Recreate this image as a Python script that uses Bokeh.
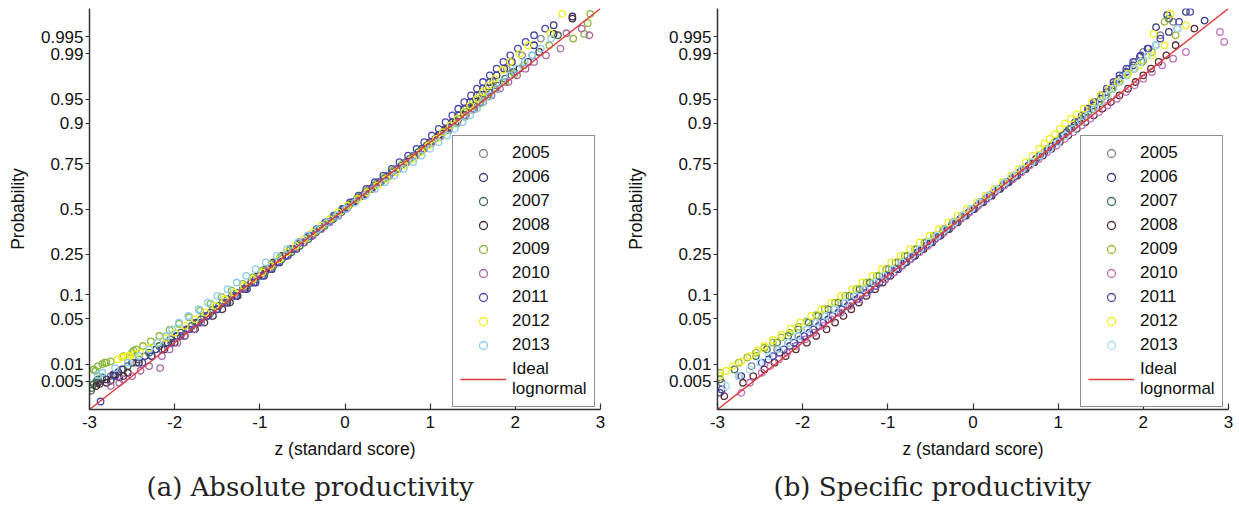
from statistics import NormalDist
from bokeh.plotting import figure
from bokeh.models import Range1d, FixedTicker, Legend, LegendItem, Title
from bokeh.layouts import row
from bokeh.embed import file_html
from bokeh.resources import INLINE

# ---------------- data ----------------
years = ["2005", "2006", "2007", "2008", "2009", "2010", "2011", "2012", "2013"]
colors_a = ["#85858f", "#3a3a78", "#3f6f50", "#4a2c32", "#8ab83c", "#a868a8", "#4848b0", "#eeee22", "#88ccf0"]
colors_b = ["#85858f", "#3a3a80", "#3f6f50", "#5c2a30", "#9ab83c", "#c070b8", "#4848b0", "#eeee22", "#a8dcf5"]
x_ticks = [-3, -2, -1, 0, 1, 2, 3]
x_tick_labels = ["-3", "-2", "-1", "0", "1", "2", "3"]
prob_ticks = [0.005, 0.01, 0.05, 0.1, 0.25, 0.5, 0.75, 0.9, 0.95, 0.99, 0.995]
prob_tick_labels = ["0.005", "0.01", "0.05", "0.1", "0.25", "0.5", "0.75", "0.9", "0.95", "0.99", "0.995"]
ideal_z = [-3, 3]
captions = ["(a) Absolute productivity", "(b) Specific productivity"]

# Panel (a): x = standard score, y = normal quantile of the cumulative probability
a2005_x = [-2.85, -2.45, -2.22, -1.98, -1.76, -1.55, -1.33, -1.1, -0.92, -0.7, -0.49, -0.3, -0.12, 0.08, 0.28, 0.5, 0.72, 0.93, 1.1, 1.27, 1.42, 1.58, 1.74, 1.9, 2.08, 2.3,
           -2.1, -1.87, -1.66, -1.44, -1.2, -1.01, -0.81, -0.6, -0.4, -0.21, -0.02, 0.18, 0.39, 0.61, 0.83, 1.02, 1.19, 1.35, 1.5, 1.66,
           -2.9, -2.75, -2.6]
a2005_y = [-2.55, -2.3, -2.1, -1.9, -1.7, -1.5, -1.3, -1.1, -0.9, -0.7, -0.5, -0.3, -0.1, 0.1, 0.3, 0.5, 0.7, 0.9, 1.1, 1.3, 1.5, 1.7, 1.9, 2.1, 2.3, 2.55,
           -2.0, -1.8, -1.6, -1.4, -1.2, -1.0, -0.8, -0.6, -0.4, -0.2, 0.0, 0.2, 0.4, 0.6, 0.8, 1.0, 1.2, 1.4, 1.6, 1.8,
           -2.6, -2.5, -2.4]
a2006_x = [-2.9, -2.62, -2.35, -2.08, -1.85, -1.62, -1.38, -1.15, -0.95, -0.77, -0.57, -0.38, -0.2, -0.02, 0.2, 0.42, 0.62, 0.82, 1.02, 1.18, 1.33, 1.47, 1.62, 1.78, 1.96, 2.22, 2.45, 2.67,
           -2.5, -2.22, -1.97, -1.74, -1.5, -1.27, -1.05, -0.86, -0.67, -0.48, -0.29, -0.11, 0.09, 0.31, 0.52, 0.72, 0.92, 1.1, 1.26, 1.4, 1.55, 1.7, 1.87,
           -2.8, -2.72, -2.66]
a2006_y = [-2.6, -2.4, -2.2, -2.0, -1.8, -1.6, -1.4, -1.2, -1.0, -0.8, -0.6, -0.4, -0.2, 0.0, 0.2, 0.4, 0.6, 0.8, 1.0, 1.2, 1.4, 1.6, 1.8, 2.0, 2.2, 2.45, 2.75, 2.88,
           -2.3, -2.1, -1.9, -1.7, -1.5, -1.3, -1.1, -0.9, -0.7, -0.5, -0.3, -0.1, 0.1, 0.3, 0.5, 0.7, 0.9, 1.1, 1.3, 1.5, 1.7, 1.9, 2.1,
           -2.55, -2.48, -2.44]
a2007_x = [-2.98, -2.9, -2.55, -2.3, -2.05, -1.8, -1.58, -1.38, -1.15, -0.94, -0.74, -0.53, -0.34, -0.14, 0.04, 0.24, 0.45, 0.66, 0.86, 1.06, 1.24, 1.42, 1.6, 1.78, 1.98, 2.2, 2.5,
           -2.42, -2.18, -1.93, -1.69, -1.48, -1.27, -1.05, -0.84, -0.63, -0.43, -0.24, -0.04, 0.14, 0.34, 0.55, 0.76, 0.96, 1.15, 1.33, 1.51, 1.69, 1.88,
           -2.97, -2.95, -2.92, -2.85]
a2007_y = [-2.72, -2.55, -2.35, -2.15, -1.95, -1.75, -1.55, -1.35, -1.15, -0.95, -0.75, -0.55, -0.35, -0.15, 0.05, 0.25, 0.45, 0.65, 0.85, 1.05, 1.25, 1.45, 1.65, 1.85, 2.05, 2.3, 2.6,
           -2.25, -2.05, -1.85, -1.65, -1.45, -1.25, -1.05, -0.85, -0.65, -0.45, -0.25, -0.05, 0.15, 0.35, 0.55, 0.75, 0.95, 1.15, 1.35, 1.55, 1.75, 1.95,
           -2.68, -2.62, -2.58, -2.52]
a2008_x = [-2.92, -2.7, -2.42, -2.12, -1.88, -1.65, -1.44, -1.26, -1.1, -0.93, -0.74, -0.54, -0.33, -0.12, 0.1, 0.31, 0.52, 0.72, 0.9, 1.1, 1.3, 1.5, 1.68, 1.86, 2.05, 2.28, 2.45, 2.67,
           -2.27, -2.0, -1.76, -1.55, -1.35, -1.18, -1.02, -0.84, -0.64, -0.43, -0.22, -0.01, 0.2, 0.41, 0.62, 0.81, 1.0, 1.2, 1.4, 1.59, 1.77, 1.95, 2.15,
           -2.88, -2.8, -2.75, -2.65, -2.6, -2.55]
a2008_y = [-2.65, -2.48, -2.3, -2.1, -1.9, -1.7, -1.5, -1.3, -1.1, -0.9, -0.7, -0.5, -0.3, -0.1, 0.1, 0.3, 0.5, 0.7, 0.9, 1.1, 1.3, 1.5, 1.7, 1.9, 2.1, 2.35, 2.62, 2.85,
           -2.2, -2.0, -1.8, -1.6, -1.4, -1.2, -1.0, -0.8, -0.6, -0.4, -0.2, 0.0, 0.2, 0.4, 0.6, 0.8, 1.0, 1.2, 1.4, 1.6, 1.8, 2.0, 2.2,
           -2.62, -2.6, -2.57, -2.52, -2.5, -2.45]
a2009_x = [-2.95, -2.82, -2.6, -2.37, -2.18, -1.95, -1.7, -1.45, -1.2, -0.97, -0.76, -0.55, -0.34, -0.14, 0.06, 0.26, 0.47, 0.68, 0.9, 1.12, 1.32, 1.5, 1.68, 1.88, 2.1, 2.4, 2.68, 2.81, 2.85, 2.88,
           -2.48, -2.28, -2.06, -1.83, -1.58, -1.33, -1.08, -0.86, -0.65, -0.44, -0.24, -0.04, 0.16, 0.37, 0.57, 0.79, 1.01, 1.22, 1.41, 1.59, 1.78, 1.99,
           -2.93, -2.9, -2.85, -2.8, -2.75, -2.5, -2.45]
a2009_y = [-2.4, -2.3, -2.2, -2.05, -1.9, -1.72, -1.52, -1.32, -1.12, -0.92, -0.72, -0.52, -0.32, -0.12, 0.08, 0.28, 0.48, 0.68, 0.88, 1.08, 1.28, 1.48, 1.68, 1.9, 2.15, 2.45, 2.55, 2.62, 2.78, 2.92,
           -2.12, -1.98, -1.81, -1.62, -1.42, -1.22, -1.02, -0.82, -0.62, -0.42, -0.22, -0.02, 0.18, 0.38, 0.58, 0.78, 0.98, 1.18, 1.38, 1.58, 1.79, 2.02,
           -2.42, -2.35, -2.32, -2.3, -2.28, -2.15, -2.1]
a2010_x = [-2.75, -2.5, -2.17, -2.15, -1.97, -1.78, -1.6, -1.4, -1.2, -1.0, -0.8, -0.58, -0.38, -0.18, 0.02, 0.22, 0.42, 0.62, 0.82, 1.02, 1.22, 1.42, 1.62, 1.82, 2.02, 2.22, 2.53, 2.6, 2.78, 2.87,
           -2.06, -1.88, -1.69, -1.5, -1.3, -1.1, -0.9, -0.69, -0.48, -0.28, -0.08, 0.12, 0.32, 0.52, 0.72, 0.92, 1.12, 1.32, 1.52, 1.72, 1.92, 2.12, 2.36,
           -2.65, -2.6, -2.4, -2.3]
a2010_y = [-2.65, -2.5, -2.38, -2.2, -2.0, -1.8, -1.6, -1.4, -1.2, -1.0, -0.8, -0.6, -0.4, -0.2, 0.0, 0.2, 0.4, 0.6, 0.8, 1.0, 1.2, 1.4, 1.6, 1.8, 2.0, 2.2, 2.4, 2.63, 2.7, 2.6,
           -2.1, -1.9, -1.7, -1.5, -1.3, -1.1, -0.9, -0.7, -0.5, -0.3, -0.1, 0.1, 0.3, 0.5, 0.7, 0.9, 1.1, 1.3, 1.5, 1.7, 1.9, 2.1, 2.3,
           -2.6, -2.55, -2.42, -2.35]
a2011_x = [-2.87, -2.7, -2.38, -2.15, -1.93, -1.72, -1.5, -1.28, -1.07, -0.88, -0.7, -0.52, -0.33, -0.13, 0.06, 0.25, 0.45, 0.64, 0.84, 1.02, 1.18, 1.33, 1.48, 1.62, 1.78, 1.94, 2.12, 2.35,
           -2.27, -2.04, -1.83, -1.61, -1.39, -1.17, -0.97, -0.79, -0.61, -0.42, -0.23, -0.03, 0.16, 0.35, 0.55, 0.74, 0.93, 1.1, 1.26, 1.4, 1.55, 1.7, 1.86, 2.03, 2.22]
a2011_y = [-2.88, -2.5, -2.3, -2.1, -1.9, -1.7, -1.5, -1.3, -1.1, -0.9, -0.7, -0.5, -0.3, -0.1, 0.1, 0.3, 0.5, 0.7, 0.9, 1.1, 1.3, 1.5, 1.7, 1.9, 2.1, 2.3, 2.5, 2.7,
           -2.2, -2.0, -1.8, -1.6, -1.4, -1.2, -1.0, -0.8, -0.6, -0.4, -0.2, 0.0, 0.2, 0.4, 0.6, 0.8, 1.0, 1.2, 1.4, 1.6, 1.8, 2.0, 2.2, 2.4, 2.6]
a2012_x = [-2.67, -2.52, -2.4, -2.2, -2.0, -1.76, -1.52, -1.3, -1.08, -0.87, -0.68, -0.48, -0.28, -0.08, 0.15, 0.38, 0.6, 0.8, 0.98, 1.15, 1.32, 1.47, 1.62, 1.76, 1.94, 2.15, 2.41, 2.55,
           -2.3, -2.1, -1.88, -1.64, -1.41, -1.19, -0.97, -0.77, -0.58, -0.38, -0.18, 0.03, 0.26, 0.49, 0.7, 0.9, 1.07, 1.24, 1.4, 1.55, 1.69, 1.85, 2.05,
           -2.62, -2.58, -2.55, -2.47]
a2012_y = [-2.25, -2.2, -2.15, -2.0, -1.85, -1.65, -1.45, -1.25, -1.05, -0.85, -0.65, -0.45, -0.25, -0.05, 0.15, 0.35, 0.55, 0.75, 0.95, 1.15, 1.35, 1.55, 1.75, 1.95, 2.2, 2.45, 2.63, 2.92,
           -2.08, -1.93, -1.75, -1.55, -1.35, -1.15, -0.95, -0.75, -0.55, -0.35, -0.15, 0.05, 0.25, 0.45, 0.65, 0.85, 1.05, 1.25, 1.45, 1.65, 1.85, 2.08, 2.32,
           -2.22, -2.21, -2.2, -2.17]
a2013_x = [-2.9, -2.55, -2.3, -2.1, -1.95, -1.72, -1.5, -1.27, -1.05, -0.8, -0.55, -0.32, -0.1, 0.12, 0.35, 0.58, 0.8, 1.0, 1.2, 1.38, 1.55, 1.7, 1.85, 2.02, 2.2, 2.42,
           -2.42, -2.2, -2.03, -1.84, -1.61, -1.38, -1.16, -0.93, -0.68, -0.44, -0.21, 0.01, 0.24, 0.47, 0.69, 0.9, 1.1, 1.29, 1.47, 1.62, 1.78, 1.94, 2.11, 2.3,
           -2.85, -2.7]
a2013_y = [-2.49, -2.3, -2.1, -1.9, -1.7, -1.5, -1.3, -1.1, -0.9, -0.7, -0.5, -0.3, -0.1, 0.1, 0.3, 0.5, 0.7, 0.9, 1.1, 1.3, 1.5, 1.7, 1.9, 2.1, 2.3, 2.55,
           -2.2, -2.0, -1.8, -1.6, -1.4, -1.2, -1.0, -0.8, -0.6, -0.4, -0.2, 0.0, 0.2, 0.4, 0.6, 0.8, 1.0, 1.2, 1.4, 1.6, 1.8, 2.0, 2.2, 2.4,
           -2.45, -2.38]

# Panel (b)
b2005_x = [-2.95, -2.6, -2.3, -2.05, -1.85, -1.63, -1.4, -1.17, -0.95, -0.73, -0.52, -0.31, -0.1, 0.1, 0.3, 0.5, 0.7, 0.88, 1.05, 1.2, 1.36, 1.52, 1.68, 1.83, 2.0, 2.2,
           -2.17, -1.95, -1.74, -1.52, -1.29, -1.06, -0.84, -0.62, -0.41, -0.2, 0.0, 0.2, 0.4, 0.6, 0.79, 0.97, 1.13, 1.28, 1.44, 1.6, 1.76, 1.9,
           2.35]
b2005_y = [-2.6, -2.35, -2.1, -1.9, -1.7, -1.5, -1.3, -1.1, -0.9, -0.7, -0.5, -0.3, -0.1, 0.1, 0.3, 0.5, 0.7, 0.9, 1.1, 1.3, 1.5, 1.7, 1.9, 2.1, 2.35, 2.6,
           -2.0, -1.8, -1.6, -1.4, -1.2, -1.0, -0.8, -0.6, -0.4, -0.2, 0.0, 0.2, 0.4, 0.6, 0.8, 1.0, 1.2, 1.4, 1.6, 1.8, 2.0, 2.2,
           2.8]
b2006_x = [-2.97, -2.72, -2.4, -2.15, -1.92, -1.7, -1.47, -1.25, -1.03, -0.84, -0.65, -0.45, -0.25, -0.05, 0.15, 0.35, 0.55, 0.74, 0.93, 1.1, 1.27, 1.42, 1.57, 1.72, 1.88, 2.05, 2.3, 2.72,
           -2.27, -2.03, -1.81, -1.58, -1.36, -1.14, -0.93, -0.74, -0.55, -0.35, -0.15, 0.05, 0.25, 0.45, 0.65, 0.84, 1.02, 1.19, 1.35, 1.5, 1.65, 1.8, 1.96,
           2.15, 2.28, 2.5]
b2006_y = [-2.75, -2.5, -2.25, -2.05, -1.85, -1.65, -1.45, -1.25, -1.05, -0.85, -0.65, -0.45, -0.25, -0.05, 0.15, 0.35, 0.55, 0.75, 0.95, 1.15, 1.35, 1.55, 1.75, 1.95, 2.15, 2.4, 2.65, 2.82,
           -2.15, -1.95, -1.75, -1.55, -1.35, -1.15, -0.95, -0.75, -0.55, -0.35, -0.15, 0.05, 0.25, 0.45, 0.65, 0.85, 1.05, 1.25, 1.45, 1.65, 1.85, 2.05, 2.28,
           2.72, 2.9, 2.95]
b2007_x = [-2.97, -2.8, -2.55, -2.3, -2.05, -1.82, -1.58, -1.33, -1.1, -0.88, -0.66, -0.44, -0.23, -0.02, 0.18, 0.38, 0.58, 0.78, 0.97, 1.15, 1.32, 1.48, 1.63, 1.8, 1.98, 2.15, 2.4,
           -2.42, -2.17, -1.93, -1.7, -1.45, -1.21, -0.99, -0.77, -0.55, -0.33, -0.12, 0.08, 0.28, 0.48, 0.68, 0.88, 1.06, 1.24, 1.4, 1.56, 1.72, 1.89,
           2.3]
b2007_y = [-2.55, -2.4, -2.2, -2.0, -1.8, -1.6, -1.4, -1.2, -1.0, -0.8, -0.6, -0.4, -0.2, 0.0, 0.2, 0.4, 0.6, 0.8, 1.0, 1.2, 1.4, 1.6, 1.8, 2.0, 2.2, 2.45, 2.7,
           -2.1, -1.9, -1.7, -1.5, -1.3, -1.1, -0.9, -0.7, -0.5, -0.3, -0.1, 0.1, 0.3, 0.5, 0.7, 0.9, 1.1, 1.3, 1.5, 1.7, 1.9, 2.1,
           2.85]
b2008_x = [-2.92, -2.7, -2.45, -2.2, -1.95, -1.72, -1.52, -1.34, -1.15, -0.97, -0.78, -0.58, -0.38, -0.18, 0.02, 0.22, 0.42, 0.62, 0.82, 1.02, 1.22, 1.42, 1.62, 1.82, 2.0, 2.18, 2.38, 2.6,
           -2.58, -2.33, -2.08, -1.84, -1.62, -1.43, -1.25, -1.06, -0.88, -0.68, -0.48, -0.28, -0.08, 0.12, 0.32, 0.52, 0.72, 0.92, 1.12, 1.32, 1.52, 1.72, 1.91, 2.09, 2.27]
b2008_y = [-2.8, -2.6, -2.4, -2.2, -2.0, -1.8, -1.6, -1.4, -1.2, -1.0, -0.8, -0.6, -0.4, -0.2, 0.0, 0.2, 0.4, 0.6, 0.8, 1.0, 1.2, 1.4, 1.6, 1.8, 2.0, 2.2, 2.45, 2.7,
           -2.5, -2.3, -2.1, -1.9, -1.7, -1.5, -1.3, -1.1, -0.9, -0.7, -0.5, -0.3, -0.1, 0.1, 0.3, 0.5, 0.7, 0.9, 1.1, 1.3, 1.5, 1.7, 1.9, 2.1, 2.3]
b2009_x = [-2.97, -2.75, -2.55, -2.35, -2.15, -1.95, -1.74, -1.5, -1.25, -1.02, -0.8, -0.57, -0.35, -0.13, 0.08, 0.28, 0.48, 0.68, 0.87, 1.05, 1.23, 1.4, 1.56, 1.72, 1.9, 2.1, 2.38,
           -2.65, -2.45, -2.25, -2.05, -1.84, -1.62, -1.37, -1.13, -0.91, -0.68, -0.46, -0.24, -0.02, 0.18, 0.38, 0.58, 0.78, 0.96, 1.14, 1.31, 1.48, 1.64, 1.81, 2.0,
           2.25]
b2009_y = [-2.45, -2.3, -2.15, -2.0, -1.85, -1.68, -1.5, -1.3, -1.1, -0.9, -0.7, -0.5, -0.3, -0.1, 0.1, 0.3, 0.5, 0.7, 0.9, 1.1, 1.3, 1.5, 1.7, 1.9, 2.1, 2.35, 2.6,
           -2.22, -2.08, -1.92, -1.76, -1.59, -1.4, -1.2, -1.0, -0.8, -0.6, -0.4, -0.2, 0.0, 0.2, 0.4, 0.6, 0.8, 1.0, 1.2, 1.4, 1.6, 1.8, 2.0, 2.22,
           2.8]
b2010_x = [-2.72, -2.62, -2.48, -2.28, -2.08, -1.87, -1.66, -1.45, -1.24, -1.03, -0.83, -0.63, -0.44, -0.24, -0.04, 0.16, 0.37, 0.57, 0.77, 0.98, 1.18, 1.38, 1.58, 1.8, 2.0, 2.22, 2.5, 2.95, 2.9,
           -2.38, -2.18, -1.97, -1.76, -1.55, -1.34, -1.13, -0.93, -0.73, -0.53, -0.34, -0.14, 0.06, 0.26, 0.47, 0.67, 0.87, 1.08, 1.28, 1.48, 1.69, 1.9, 2.1, 2.35]
b2010_y = [-2.75, -2.6, -2.45, -2.25, -2.05, -1.85, -1.65, -1.45, -1.25, -1.05, -0.85, -0.65, -0.45, -0.25, -0.05, 0.15, 0.35, 0.55, 0.75, 0.95, 1.15, 1.35, 1.55, 1.75, 1.95, 2.15, 2.35, 2.5, 2.65,
           -2.35, -2.15, -1.95, -1.75, -1.55, -1.35, -1.15, -0.95, -0.75, -0.55, -0.35, -0.15, 0.05, 0.25, 0.45, 0.65, 0.85, 1.05, 1.25, 1.45, 1.65, 1.85, 2.05, 2.25]
b2011_x = [-2.95, -2.75, -2.48, -2.22, -1.98, -1.76, -1.54, -1.32, -1.1, -0.9, -0.7, -0.5, -0.3, -0.1, 0.1, 0.3, 0.5, 0.7, 0.88, 1.05, 1.2, 1.35, 1.5, 1.65, 1.8, 1.97, 2.2, 2.42,
           -2.35, -2.1, -1.87, -1.65, -1.43, -1.21, -1.0, -0.8, -0.6, -0.4, -0.2, 0.0, 0.2, 0.4, 0.6, 0.79, 0.97, 1.13, 1.28, 1.42, 1.57, 1.72, 1.88, 2.06,
           2.55]
b2011_y = [-2.7, -2.5, -2.3, -2.1, -1.9, -1.7, -1.5, -1.3, -1.1, -0.9, -0.7, -0.5, -0.3, -0.1, 0.1, 0.3, 0.5, 0.7, 0.9, 1.1, 1.3, 1.5, 1.7, 1.9, 2.1, 2.3, 2.55, 2.8,
           -2.2, -2.0, -1.8, -1.6, -1.4, -1.2, -1.0, -0.8, -0.6, -0.4, -0.2, 0.0, 0.2, 0.4, 0.6, 0.8, 1.0, 1.2, 1.4, 1.6, 1.8, 2.0, 2.2, 2.4,
           2.95]
b2012_x = [-2.97, -2.82, -2.62, -2.45, -2.25, -2.03, -1.78, -1.55, -1.3, -1.07, -0.85, -0.63, -0.4, -0.18, 0.05, 0.25, 0.45, 0.62, 0.78, 0.9, 1.02, 1.15, 1.3, 1.5, 1.7, 1.95, 2.25, 2.5,
           -2.9, -2.72, -2.53, -2.35, -2.14, -1.9, -1.66, -1.42, -1.18, -0.96, -0.74, -0.51, -0.29, -0.07, 0.15, 0.35, 0.54, 0.7, 0.84, 0.96, 1.08, 1.22, 1.4, 1.6, 1.82, 2.1,
           2.12, 2.32]
b2012_y = [-2.5, -2.35, -2.2, -2.05, -1.88, -1.7, -1.5, -1.3, -1.1, -0.9, -0.7, -0.5, -0.3, -0.1, 0.1, 0.3, 0.5, 0.7, 0.9, 1.05, 1.2, 1.35, 1.5, 1.7, 1.9, 2.15, 2.45, 2.75,
           -2.42, -2.28, -2.12, -1.96, -1.79, -1.6, -1.4, -1.2, -1.0, -0.8, -0.6, -0.4, -0.2, 0.0, 0.2, 0.4, 0.6, 0.8, 0.98, 1.12, 1.28, 1.42, 1.6, 1.8, 2.02, 2.3,
           2.62, 2.92]
b2013_x = [-2.9, -2.62, -2.4, -2.17, -1.95, -1.73, -1.5, -1.27, -1.05, -0.83, -0.62, -0.42, -0.22, -0.02, 0.18, 0.38, 0.58, 0.8, 1.0, 1.18, 1.35, 1.5, 1.65, 1.8, 1.97, 2.15, 2.4,
           -2.75, -2.5, -2.28, -2.06, -1.84, -1.62, -1.38, -1.16, -0.94, -0.72, -0.52, -0.32, -0.12, 0.08, 0.28, 0.48, 0.69, 0.9, 1.09, 1.27, 1.43, 1.58, 1.73, 1.89, 2.05]
b2013_y = [-2.65, -2.4, -2.2, -2.0, -1.8, -1.6, -1.4, -1.2, -1.0, -0.8, -0.6, -0.4, -0.2, 0.0, 0.2, 0.4, 0.6, 0.8, 1.0, 1.2, 1.4, 1.6, 1.8, 2.0, 2.2, 2.45, 2.7,
           -2.5, -2.3, -2.1, -1.9, -1.7, -1.5, -1.3, -1.1, -0.9, -0.7, -0.5, -0.3, -0.1, 0.1, 0.3, 0.5, 0.7, 0.9, 1.1, 1.3, 1.5, 1.7, 1.9, 2.1, 2.3]

series_a = [(a2005_x, a2005_y), (a2006_x, a2006_y), (a2007_x, a2007_y), (a2008_x, a2008_y),
            (a2009_x, a2009_y), (a2010_x, a2010_y), (a2011_x, a2011_y), (a2012_x, a2012_y),
            (a2013_x, a2013_y)]
series_b = [(b2005_x, b2005_y), (b2006_x, b2006_y), (b2007_x, b2007_y), (b2008_x, b2008_y),
            (b2009_x, b2009_y), (b2010_x, b2010_y), (b2011_x, b2011_y), (b2012_x, b2012_y),
            (b2013_x, b2013_y)]

SANS = "Liberation Sans"
SERIF = "DejaVu Serif"


def panel(series, colors, caption, width, left, right, ylab_standoff, cap_offset):
    p = figure(width=width, height=509, x_range=Range1d(-3, 3), y_range=Range1d(-3, 3),
               output_backend="svg", toolbar_location=None,
               min_border_left=left, min_border_right=right,
               min_border_top=8, min_border_bottom=99)
    p.grid.visible = False
    p.outline_line_color = None
    p.background_fill_color = "white"
    p.border_fill_color = "white"

    items = []
    for (xs, ys), c, yr in zip(series, colors, years):
        r = p.scatter(xs, ys, marker="circle", size=6.5, fill_color=None,
                      line_color=c, line_width=1.3)
        items.append(LegendItem(label=yr, renderers=[r]))
    ln = p.line(ideal_z, ideal_z, line_color="#e23b3b", line_width=1.4)
    items.append(LegendItem(label="Ideal\nlognormal", renderers=[ln]))

    q = [round(NormalDist().inv_cdf(v), 6) for v in prob_ticks]
    p.yaxis.ticker = FixedTicker(ticks=q)
    p.yaxis.major_label_overrides = {k: lab for k, lab in zip(q, prob_tick_labels)}
    p.xaxis.ticker = FixedTicker(ticks=x_ticks)
    p.xaxis.major_label_overrides = {k: lab for k, lab in zip(x_ticks, x_tick_labels)}

    for ax in (p.xaxis, p.yaxis):
        ax.axis_line_color = "#333333"
        ax.axis_line_width = 1.5
        ax.major_tick_line_color = "#333333"
        ax.major_tick_line_width = 1.2
        ax.minor_tick_line_color = None
        ax.major_label_text_font = SANS
        ax.major_label_text_font_size = "17px"
        ax.major_label_text_color = "#111111"
        ax.axis_label_text_font = SANS
        ax.axis_label_text_font_size = "17.5px"
        ax.axis_label_text_font_style = "normal"
        ax.axis_label_text_color = "#111111"
    p.xaxis.major_tick_in = 6
    p.xaxis.major_tick_out = 0
    p.xaxis.major_label_standoff = 6
    p.xaxis.axis_label = "z (standard score)"
    p.xaxis.axis_label_standoff = 8
    p.yaxis.major_tick_in = 0
    p.yaxis.major_tick_out = 4
    p.yaxis.major_label_standoff = 2
    p.yaxis.axis_label = "Probability"
    p.yaxis.axis_label_standoff = ylab_standoff

    legend = Legend(items=items, location=(363, 2), label_text_font=SANS,
                    label_text_font_size="17px", label_text_color="#111111",
                    glyph_width=46, glyph_height=20, label_height=20, label_standoff=6,
                    spacing=4, padding=7, margin=0, border_line_color="#222222",
                    border_line_width=1.2, background_fill_color="white",
                    background_fill_alpha=1.0)
    p.add_layout(legend)

    p.add_layout(Title(text=caption, align="left", offset=cap_offset, text_font=SERIF,
                       text_font_size="26px", text_font_style="normal",
                       text_color="#222222", standoff=16), "below")
    return p


p1 = panel(series_a, colors_a, captions[0], 620, 89, 20, 10, 57)
p2 = panel(series_b, colors_b, captions[1], 619, 97, 11, 20, 56)
layout = row(p1, p2)

open("out.html", "w").write(file_html(layout, INLINE))
